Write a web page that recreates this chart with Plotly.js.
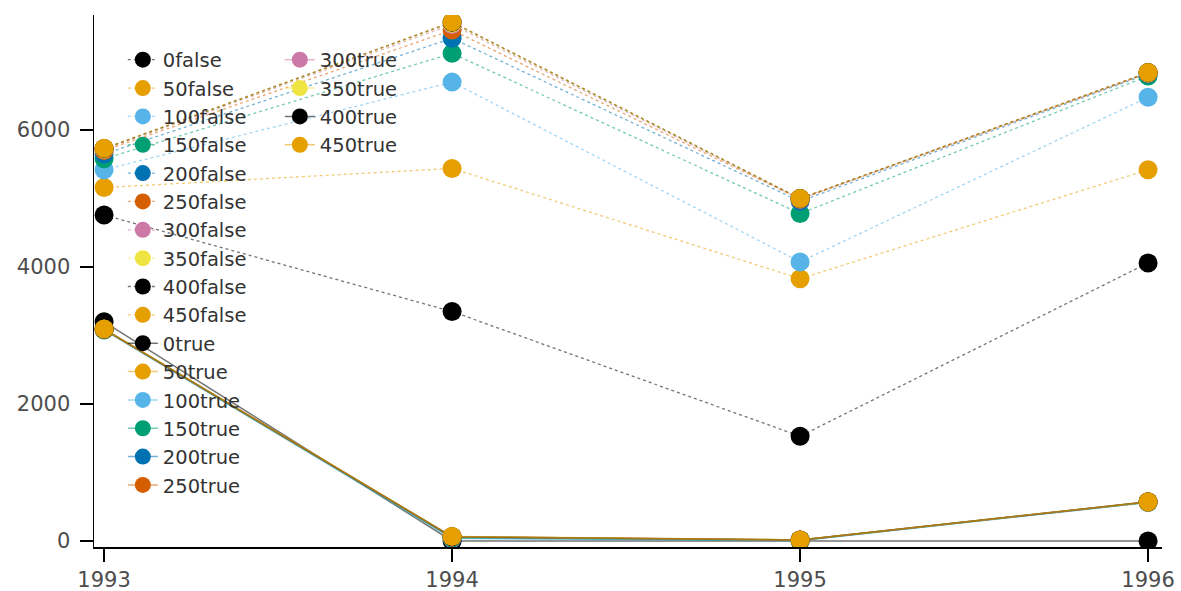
<!DOCTYPE html>
<html>
<head>
<meta charset="utf-8">
<script src="https://cdn.plot.ly/plotly-3.0.1.min.js"></script>
<style>
html,body{margin:0;padding:0;background:#fff;}
#chart{width:1181px;height:591px;}
</style>
</head>
<body>
<div id="chart"></div>
<script>
const years = [1993, 1994, 1995, 1996];
const seriesNames = ["0false","50false","100false","150false","200false","250false","300false","350false","400false","450false",
                     "0true","50true","100true","150true","200true","250true","300true","350true","400true","450true"];
const seriesColors = ["#000000","#E69F00","#56B4E9","#009E73","#0072B2","#D55E00","#CC79A7","#F0E442","#000000","#E69F00",
                      "#000000","#E69F00","#56B4E9","#009E73","#0072B2","#D55E00","#CC79A7","#F0E442","#000000","#E69F00"];
const v0false   = [4760, 3350, 1530, 4060];
const v50false  = [5160, 5440, 3830, 5420];
const v100false = [5420, 6700, 4075, 6480];
const v150false = [5580, 7120, 4780, 6790];
const v200false = [5650, 7340, 4960, 6820];
const v250false = [5700, 7460, 4990, 6830];
const v300false = [5720, 7540, 4995, 6835];
const v350false = [5725, 7560, 5000, 6838];
const v400false = [5730, 7575, 5000, 6840];
const v450false = [5735, 7580, 5000, 6840];
const v0true    = [3200, 0, 0, 0];
const v50true   = [3090, 60, 15, 565];
const v100true  = [3080, 35, 5, 560];
const v150true  = [3085, 45, 8, 565];
const v200true  = [3088, 55, 10, 568];
const v250true  = [3090, 58, 12, 570];
const v300true  = [3090, 60, 14, 570];
const v350true  = [3090, 60, 15, 570];
const v400true  = [3092, 62, 15, 572];
const v450true  = [3095, 65, 15, 572];
const seriesValues = [v0false,v50false,v100false,v150false,v200false,v250false,v300false,v350false,v400false,v450false,
                      v0true,v50true,v100true,v150true,v200true,v250true,v300true,v350true,v400true,v450true];
const yTicks = [0, 2000, 4000, 6000];

function rgba(hex, a){
  const r=parseInt(hex.slice(1,3),16), g=parseInt(hex.slice(3,5),16), b=parseInt(hex.slice(5,7),16);
  return `rgba(${r},${g},${b},${a})`;
}
const traces = seriesNames.map((name,i)=>{
  const isTrue = name.endsWith("true");
  return {
    x: years, y: seriesValues[i], name: name, type: "scatter", mode: "lines+markers",
    line: {color: rgba(seriesColors[i], 0.55), width: isTrue ? 1.5 : 1.3, dash: isTrue ? "solid" : "dot"},
    marker: {color: seriesColors[i], size: 19, line: {width: 0}},
    legend: i < 16 ? "legend" : "legend2"
  };
});
const legFont = {family: "DejaVu Sans", size: 19.5, color: "#333333"};
const tickFont = {family: "DejaVu Sans", size: 21, color: "#4d4d4d"};
const layout = {
  width: 1181, height: 591,
  margin: {l: 94, r: 19, t: 15, b: 44},
  paper_bgcolor: "#fff", plot_bgcolor: "#fff",
  font: {family: "DejaVu Sans", size: 19, color: "#444444"},
  showlegend: true,
  legend: {x: 0.027, y: 0.952, xanchor: "left", yanchor: "top", bgcolor: "rgba(0,0,0,0)", font: legFont, tracegroupgap: 0, itemsizing: "trace"},
  legend2: {x: 0.174, y: 0.952, xanchor: "left", yanchor: "top", bgcolor: "rgba(0,0,0,0)", font: legFont, tracegroupgap: 0, itemsizing: "trace"},
  xaxis: {range: [1992.971, 1996.04], tickvals: years, ticktext: years.map(String), showgrid: false, zeroline: false,
          showline: true, linecolor: "#000", linewidth: 1.5, ticks: "outside", ticklen: 13, tickcolor: "#000", tickwidth: 1.5,
          tickfont: tickFont, ticklabelstandoff: 0},
  yaxis: {range: [-88, 7680], tickvals: yTicks, showgrid: false, zeroline: false,
          showline: true, linecolor: "#000", linewidth: 1.5, ticks: "outside", ticklen: 13, tickcolor: "#000", tickwidth: 1.5,
          tickfont: tickFont, ticklabelstandoff: 5}
};
Plotly.newPlot("chart", traces, layout, {staticPlot: true, displayModeBar: false});
</script>
</body>
</html>
